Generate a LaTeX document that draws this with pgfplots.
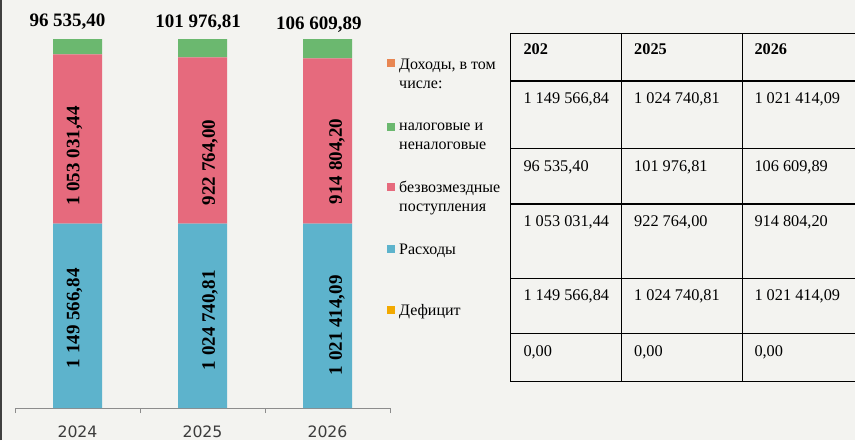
\documentclass[border=0pt]{standalone}
\usepackage{pgfplots}
\pgfplotsset{compat=1.18}
\usepackage{pgfplotstable}
\usepackage{fontspec}
\setmainfont{Liberation Serif}
\newfontfamily\yearfont{DejaVu Sans}
\definecolor{cBlue}{RGB}{93,179,204}
\definecolor{cPink}{RGB}{230,106,125}
\definecolor{cGreen}{RGB}{107,184,111}
\definecolor{cOrange}{RGB}{232,134,82}
\definecolor{cYellow}{RGB}{242,169,0}
\definecolor{cBg}{RGB}{243,243,240}
\definecolor{cAxis}{RGB}{140,140,140}
\definecolor{cYear}{RGB}{60,60,60}

\pgfplotstableread[col sep=semicolon]{
x;y;lab;dx;dy
0;50;1 149 566,84;-3;-2.5
1;50;1 024 740,81;7.5;-4.5
2;50;1 021 414,09;9.5;-9.5
}\blueData
\pgfplotstableread[col sep=semicolon]{
x;y;lab;dx;dy
0;45.801;1 053 031,44;-3;-17
1;45.024;922 764,00;7.5;-22
2;44.781;914 804,20;9.5;-20.6
}\pinkData
\pgfplotstableread[col sep=semicolon]{
x;y;lab;dx;dy
0;4.199;96 535,40;-10;20
1;4.976;101 976,81;-4.4;20.2
2;5.219;106 609,89;-8.6;19.3
}\greenData

\newcommand\barlab{\bfseries\fontsize{19}{22}\selectfont}
\newcommand\legfont{\fontsize{16}{18.5}\selectfont}
\newcommand\tabfont{\fontsize{16.3}{19}\selectfont}

\begin{document}
\begin{tikzpicture}[x=1pt,y=1pt]
\fill[cBg] (0,0) rectangle (855,440);
\draw[line width=1.5pt, black!75] (0.75,0) -- (0.75,440);

\begin{axis}[
  at={(15pt,32pt)}, anchor=south west,
  scale only axis, width=375pt, height=369pt,
  xmin=-0.5, xmax=2.5, ymin=0, ymax=100,
  ybar stacked, bar width=49pt,
  clip=false,
  axis x line*=bottom, hide y axis,
  axis line style={draw=cAxis, line width=0.8pt, -},
  xtick={0,1,2}, xticklabels={\mbox{2024},\mbox{2025},\mbox{2026}},
  xtick style={draw=none},
  extra x ticks={-0.5,0.5,1.5,2.5}, extra x tick labels={},
  extra x tick style={xtick style={draw=cAxis, line width=0.8pt}, tick align=outside, major tick length=5pt},
  xticklabel style={font=\yearfont\fontsize{15.7}{18}\selectfont, text=cYear, anchor=base, yshift=-29.4pt},
  point meta=explicit symbolic,
]
\addplot[fill=cBlue, draw=none,
  visualization depends on={\thisrow{dx} \as \dx},
  visualization depends on={\thisrow{dy} \as \dy},
  nodes near coords,
  nodes near coords style={xshift=\dx pt, yshift=\dy pt, rotate=90, anchor=center, font=\barlab, text=black, inner sep=0pt}]
  table[x=x, y=y, meta=lab] {\blueData};
\addplot[fill=cPink, draw=none,
  visualization depends on={\thisrow{dx} \as \dx},
  visualization depends on={\thisrow{dy} \as \dy},
  nodes near coords,
  nodes near coords style={xshift=\dx pt, yshift=\dy pt, rotate=90, anchor=center, font=\barlab, text=black, inner sep=0pt}]
  table[x=x, y=y, meta=lab] {\pinkData};
\addplot[fill=cGreen, draw=none,
  visualization depends on={\thisrow{dx} \as \dx},
  visualization depends on={\thisrow{dy} \as \dy},
  nodes near coords,
  nodes near coords style={xshift=\dx pt, yshift=\dy pt, anchor=base, font=\barlab, text=black, inner sep=0pt}]
  table[x=x, y=y, meta=lab] {\greenData};
\end{axis}

% legend
\fill[cOrange] (387,372.7) rectangle (395,380.7);
\node[anchor=base west, inner sep=0pt, font=\legfont] at (399,370) {Доходы, в том};
\node[anchor=base west, inner sep=0pt, font=\legfont] at (399,351.7) {числе:};
\fill[cGreen] (387,309) rectangle (395,317);
\node[anchor=base west, inner sep=0pt, font=\legfont] at (399,309.3) {налоговые и};
\node[anchor=base west, inner sep=0pt, font=\legfont] at (399,290.5) {неналоговые};
\fill[cPink] (387,249) rectangle (395,257);
\node[anchor=base west, inner sep=0pt, font=\legfont] at (399,247.5) {безвозмездные};
\node[anchor=base west, inner sep=0pt, font=\legfont] at (399,229) {поступления};
\fill[cBlue] (387,187) rectangle (395,195);
\node[anchor=base west, inner sep=0pt, font=\legfont] at (399,185.7) {Расходы};
\fill[cYellow] (387,126) rectangle (395,134);
\node[anchor=base west, inner sep=0pt, font=\legfont] at (399,125) {Дефицит};

% table
\begin{scope}[line width=1.5pt, black]
\foreach \yy in {406.7,359,291.7,236,161.7,106.7,58.3} {\draw (510,\yy) -- (857,\yy);}
\foreach \xx in {510.7,621.7,742.3} {\draw (\xx,58.3) -- (\xx,406.7);}
\end{scope}
\begin{scope}[every node/.style={anchor=base west, inner sep=0pt, font=\tabfont}]
\node[font=\tabfont\bfseries] at (523.3,385) {202};
\node[font=\tabfont\bfseries] at (634,385) {2025};
\node[font=\tabfont\bfseries] at (754.3,385) {2026};
\node at (523.3,336.7) {1 149 566,84};
\node at (634,336.7) {1 024 740,81};
\node at (754.3,336.7) {1 021 414,09};
\node at (523.3,268.3) {96 535,40};
\node at (634,268.3) {101 976,81};
\node at (754.3,268.3) {106 609,89};
\node at (523.3,213.3) {1 053 031,44};
\node at (634,213.3) {922 764,00};
\node at (754.3,213.3) {914 804,20};
\node at (523.3,140) {1 149 566,84};
\node at (634,140) {1 024 740,81};
\node at (754.3,140) {1 021 414,09};
\node at (523.3,84) {0,00};
\node at (634,84) {0,00};
\node at (754.3,84) {0,00};
\end{scope}
\pgfresetboundingbox
\useasboundingbox (0,0) rectangle (855,440);
\end{tikzpicture}
\end{document}
